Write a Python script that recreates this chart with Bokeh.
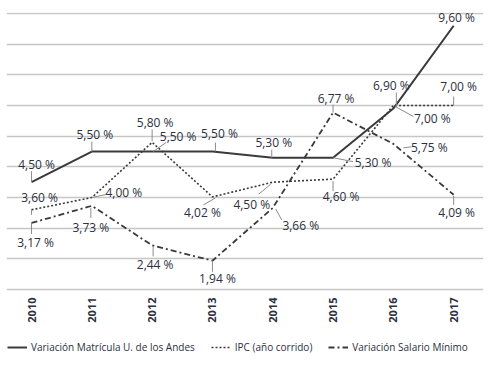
import math
from bokeh.plotting import figure
from bokeh.models import FixedTicker, Legend, LegendItem, ColumnDataSource
from bokeh.core.properties import value
from bokeh.embed import file_html
from bokeh.resources import INLINE

# ---------------- data ----------------
years = [2010, 2011, 2012, 2013, 2014, 2015, 2016, 2017]
year_labels = ["2010", "2011", "2012", "2013", "2014", "2015", "2016", "2017"]
matricula = [4.50, 5.50, 5.50, 5.50, 5.30, 5.30, 6.90, 9.60]
ipc = [3.60, 4.00, 5.80, 4.02, 4.50, 4.60, 7.00, 7.00]
salario = [3.17, 3.73, 2.44, 1.94, 3.66, 6.77, 5.75, 4.09]
grid_ticks = [1, 2, 3, 4, 5, 6, 7, 8, 9, 10]
series_names = ["Variación Matrícula U. de los Andes", "IPC (año corrido)", "Variación Salario Mínimo"]

# ---------------- label placement (pixel offsets from each point) ----------------
mat_lab = [(5, -18), (3, -17), (26, -15), (7, -18), (1, -15), (40, 5), (-2, -23), (3, -8)]
mat_lead = [((0, -1), (0, -11)), ((0, 0), (0, -10)), ((1, 0), (14, -9)), ((3, 0), (3, -9)),
            ((-1, 0), (-1, -8)), ((0, 0), (20, 4)), ((3, -2), (3, -16)), None]
ipc_lab = [(8, -12), (32, -5), (3, -20), (-10, 16), (-21, 22), (8, 17), (39, 13), (5, -19)]
ipc_lead = [((0, -1), (0, 5)), ((0, 0), (14, -3)), ((0, -1), (0, -13)), ((3, 1), (-9, 8)),
            ((-2, 2), (-14, 12)), ((0, 2), (0, 12)), ((2, 1), (20, 11)), ((0, 0), (0, -9))]
sal_lab = [(4, 19.5), (-1, 22), (3, 19), (5, 18), (28, 18), (3, -14), (36, 4), (3, 18)]
sal_lead = [((0, 0), (0, 11)), ((-1, 2), (-1, 12)), ((1, 1), (1, 11)), ((0, 0), (0, 11)),
            ((3, 1), (9, 12)), ((0, 0), (0, -8)), ((10, 4), (18, 3)), ((0, 1), (0, 10))]

# ---------------- geometry ----------------
X0, X1 = 2009.585, 2017.495
FW, FH = 477, 347
Y1 = 10.033
Y0 = Y1 - FH / 30.67
SX = FW / (X1 - X0)
SY = FH / (Y1 - Y0)

LINE = "#3a3a3a"
TEXT = "#2c3040"
FONT = "Open Sans"

p = figure(frame_width=FW, frame_height=FH, width=489, height=359,
           x_range=(X0, X1), y_range=(Y0, Y1),
           output_backend="svg", toolbar_location=None,
           x_axis_location=None, y_axis_location=None,
           min_border_left=6, min_border_right=6, min_border_top=12, min_border_bottom=0,
           outline_line_color=None)

p.xgrid.visible = False
p.ygrid.ticker = FixedTicker(ticks=grid_ticks)
p.ygrid.grid_line_color = "#c6c6c6"
p.ygrid.grid_line_width = 1.3

# year labels (rotated, under the lowest grid line)
p.text(x=years, y=[grid_ticks[0]] * len(years), text=year_labels, angle=math.pi / 2,
       y_offset=8, text_align="right", text_baseline="middle",
       text_font=value(FONT), text_font_style="bold", text_font_size="11px",
       text_color=TEXT)

r1 = p.line(years, matricula, line_color=LINE, line_width=2)
r2 = p.line(years, ipc, line_color=LINE, line_width=1.6, line_dash="2 2")
r3 = p.line(years, salario, line_color=LINE, line_width=1.8, line_dash="6 3 2 3")

# labels and leader lines
lx, ly, lt, lxo, lyo = [], [], [], [], []
sx0, sy0, sx1, sy1 = [], [], [], []
for vals, labs, leads in ((matricula, mat_lab, mat_lead), (ipc, ipc_lab, ipc_lead), (salario, sal_lab, sal_lead)):
    for yr, v, lab, lead in zip(years, vals, labs, leads):
        lx.append(yr)
        ly.append(v)
        lt.append(("%.2f" % v).replace(".", ",") + " %")
        lxo.append(lab[0])
        lyo.append(lab[1])
        if lead is not None:
            (a, b), (c, d) = lead
            sx0.append(yr + a / SX)
            sy0.append(v - b / SY)
            sx1.append(yr + c / SX)
            sy1.append(v - d / SY)

p.segment(x0=sx0, y0=sy0, x1=sx1, y1=sy1, line_color="#8c8c8c", line_width=1)

src = ColumnDataSource(dict(x=lx, y=ly, t=lt, xo=lxo, yo=lyo))
p.text(x="x", y="y", text="t", x_offset="xo", y_offset="yo", source=src,
       text_align="center", text_baseline="middle", text_font=value(FONT),
       text_font_size="12px", text_color=TEXT)

legend = Legend(items=[LegendItem(label=series_names[0], renderers=[r1]),
                       LegendItem(label=series_names[1], renderers=[r2]),
                       LegendItem(label=series_names[2], renderers=[r3])],
                orientation="horizontal", location=(1, 5), margin=0, padding=0,
                spacing=16, glyph_width=20, glyph_height=12, label_standoff=4,
                label_height=12, label_text_font=FONT, label_text_font_size="10px",
                label_text_font_style="normal", label_text_color=TEXT,
                border_line_color=None, background_fill_alpha=0)
p.add_layout(legend, "center")

open("out.html", "w").write(file_html(p, INLINE))
